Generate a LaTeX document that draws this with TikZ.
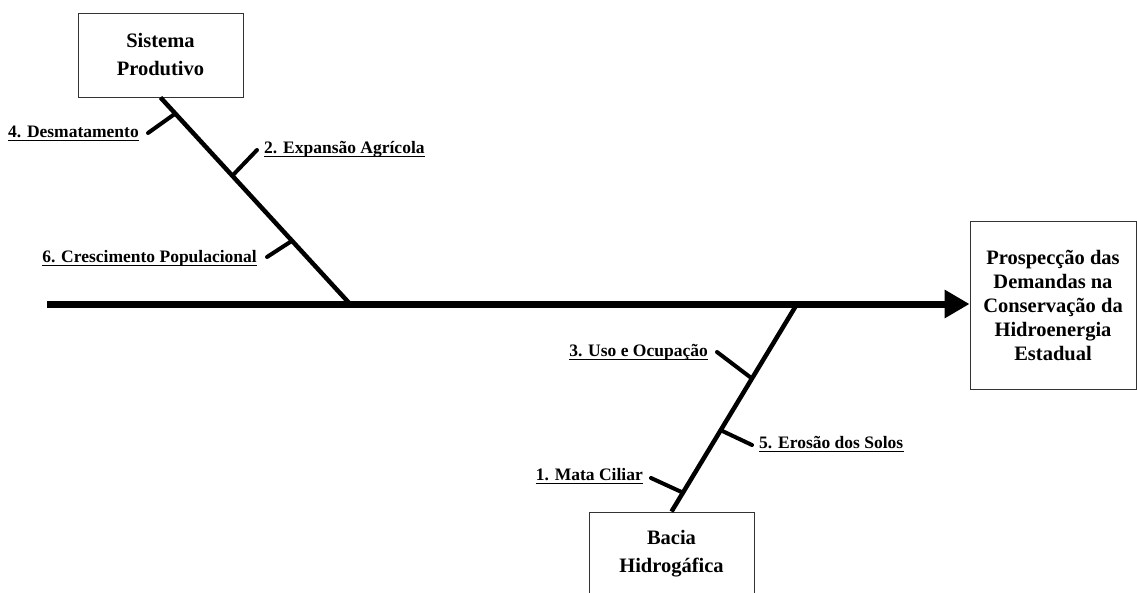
\documentclass[tikz,border=0pt]{standalone}
\usepackage{fontspec}
\setmainfont{Liberation Serif}
\usetikzlibrary{arrows.meta,calc}
\tikzset{
	box/.style={draw=black!80,line width=.9pt,minimum width=165pt,minimum height=84pt,align=center,font=\fontsize{20.5}{28}\selectfont\bfseries},
	bone/.style={line width=4.5pt},
	tick/.style={line width=4pt,line cap=round},
	cause/.style={inner sep=0pt,font=\fontsize{17.5}{20}\selectfont\bfseries,
		append after command={([yshift=-3.5pt]\tikzlastnode.base west) edge[line width=1.6pt] ([yshift=-3.5pt]\tikzlastnode.base east)}}
}
\begin{document}
\begin{tikzpicture}[x=1pt,y=-1pt]
		\useasboundingbox (0,0) rectangle (1137,592);
		\node[box] (sp) at (160.5,55) {Sistema\\Produtivo};
		\node[box] (bh) at (671.5,554) {Bacia\\Hidrogáfica};
		\node[box,minimum width=166pt,minimum height=168pt,font=\fontsize{20.5}{24}\selectfont\bfseries] (pd) at (1053,305) {Prospecção das\\Demandas na\\Conservação da\\Hidroenergia\\Estadual};
		% spine and bones
		\coordinate (tail) at (47,304);
		\draw[line width=7pt,-{Triangle[length=25pt,width=27pt]}] (tail) -- (tail -| pd.west);
		\coordinate (j1) at (350,304);
		\coordinate (j2) at (797,304);
		\draw[bone] (sp.south) -- (j1);
		\draw[bone] (bh.north) -- (j2);
		% causes, upper bone
		\node[cause,anchor=base east] (c4) at (139,137) {4. Desmatamento};
		\coordinate (t4) at (148,133);
		\draw[tick] (t4) -- ($(sp.south)!0.078!(j1)$);
		\node[cause,anchor=base west] (c2) at (264,153) {2. Expansão Agrícola};
		\coordinate (t2) at (257,150);
		\draw[tick] (t2) -- ($(sp.south)!0.379!(j1)$);
		\node[cause,anchor=base east] (c6) at (257,262) {6. Crescimento Populacional};
		\coordinate (t6) at (267,257);
		\draw[tick] (t6) -- ($(sp.south)!0.694!(j1)$);
		% causes, lower bone
		\node[cause,anchor=base east] (c3) at (708,356) {3. Uso e Ocupação};
		\coordinate (t3) at (717,352);
		\draw[tick] (t3) -- ($(j2)!0.359!(bh.north)$);
		\node[cause,anchor=base west] (c5) at (759,448) {5. Erosão dos Solos};
		\coordinate (t5) at (752,445);
		\draw[tick] (t5) -- ($(j2)!0.608!(bh.north)$);
		\node[cause,anchor=base east] (c1) at (643,480) {1. Mata Ciliar};
		\coordinate (t1) at (651,478);
		\draw[tick] (t1) -- ($(j2)!0.909!(bh.north)$);
	\end{tikzpicture}
\end{document}
